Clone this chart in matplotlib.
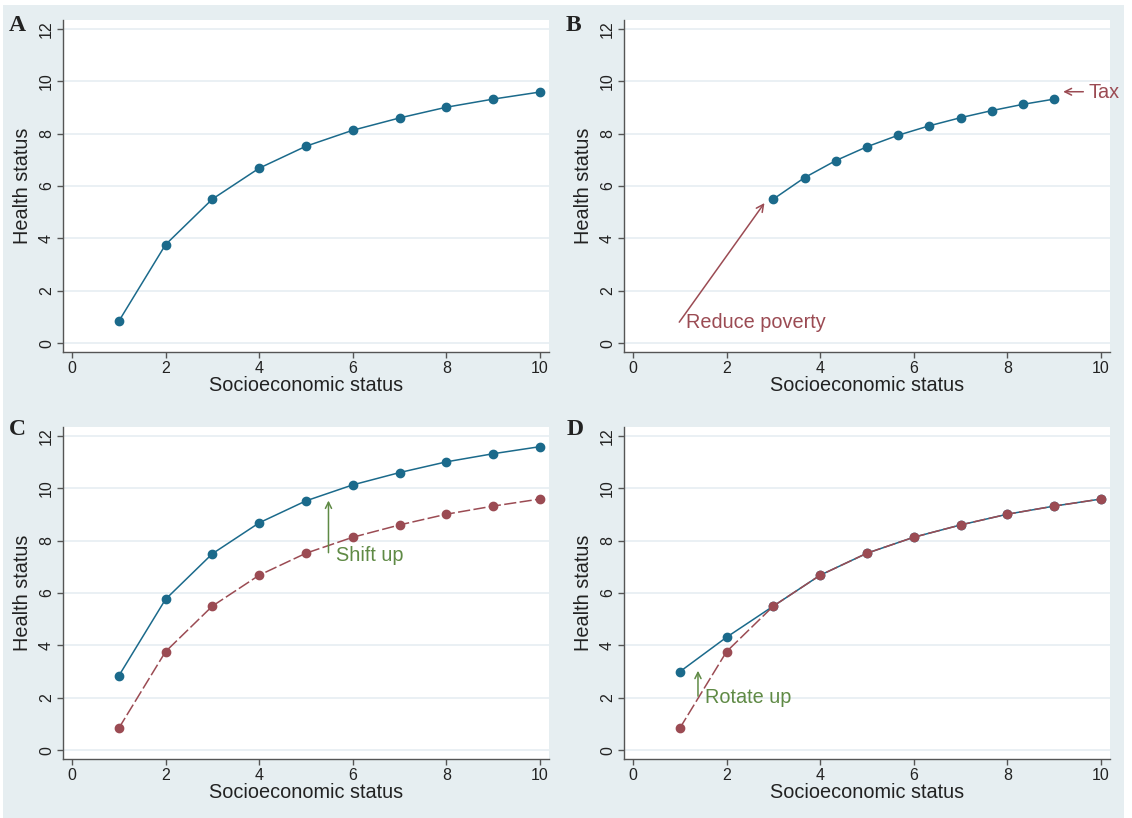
import numpy as np
import matplotlib.pyplot as plt
from matplotlib.patches import Rectangle

plt.rcParams['font.family'] = ['Liberation Sans', 'DejaVu Sans']

# data
ses = [1, 2, 3, 4, 5, 6, 7, 8, 9, 10]
health = [0.83, 3.76, 5.5, 6.68, 7.52, 8.13, 8.6, 9.01, 9.32, 9.59]

ses_b = [3, 3.667, 4.333, 5, 5.667, 6.333, 7, 7.667, 8.333, 9]
health_b = [5.5, 6.32, 6.97, 7.5, 7.94, 8.3, 8.61, 8.88, 9.12, 9.32]

health_c = [2.83, 5.76, 7.5, 8.68, 9.52, 10.13, 10.6, 11.01, 11.32, 11.59]

health_d = [2.99, 4.31, 5.5, 6.68, 7.52, 8.13, 8.6, 9.01, 9.32, 9.59]

BLUE = '#1b6a8b'
RED = '#9b4b53'
GREEN = '#5f8a45'
BG = '#e6eef1'
GRID = '#e6eef2'

fig = plt.figure(figsize=(11.32, 8.18), dpi=100, facecolor='white')
fig.patches.append(Rectangle((3/1132, 0), 1121/1132, 1 - 5/818,
                             transform=fig.transFigure, facecolor=BG,
                             edgecolor='none', zorder=-10))

W = 486/1132
H = 332/818
positions = {
    'A': (63/1132, 1 - 352/818),
    'B': (624/1132, 1 - 352/818),
    'C': (63/1132, 1 - 759/818),
    'D': (624/1132, 1 - 759/818),
}
letter_pos = {'A': (9, 31), 'B': (566, 31), 'C': (9, 435), 'D': (567, 435)}

axes = {}
for key, (l, b) in positions.items():
    ax = fig.add_axes([l, b, W, H])
    ax.set_facecolor('white')
    ax.set_xlim(-0.19, 10.19)
    ax.set_ylim(-0.34, 12.34)
    ax.set_xticks([0, 2, 4, 6, 8, 10])
    ax.set_yticks([0, 2, 4, 6, 8, 10, 12])
    ax.grid(axis='y', color=GRID, lw=1.2)
    ax.set_axisbelow(True)
    for s in ('top', 'right'):
        ax.spines[s].set_visible(False)
    for s in ('left', 'bottom'):
        ax.spines[s].set_color('#555555')
        ax.spines[s].set_linewidth(1.0)
    ax.tick_params(axis='both', colors='#555555', labelcolor='#222222',
                   labelsize=11.5, length=4, width=1.0, pad=2.5)
    for lab in ax.get_yticklabels():
        lab.set_rotation(90)
        lab.set_va('center')
    ax.set_xlabel('Socioeconomic status', fontsize=14.3, color='#222222', labelpad=0)
    ax.set_ylabel('Health status', fontsize=14.3, color='#222222', labelpad=5)
    lx, ly = letter_pos[key]
    fig.text(lx/1132, 1 - ly/818, key, family='Liberation Serif', weight='bold',
             fontsize=17, color='#222222', ha='left', va='baseline')
    axes[key] = ax

mk = dict(marker='o', markersize=6, lw=1.1)
dash = dict(marker='o', markersize=6, lw=1.1, dashes=(8, 2.2))

# A
axes['A'].plot(ses, health, color=BLUE, **mk)

# B
ax = axes['B']
ax.plot(ses_b, health_b, color=BLUE, **mk)
ax.annotate('', xy=(2.81, 5.35), xytext=(0.99, 0.8),
            arrowprops=dict(arrowstyle='->', color=RED, lw=1.1, shrinkA=0, shrinkB=0,
                            mutation_scale=13))
ax.text(1.14, 0.57, 'Reduce poverty', color=RED, fontsize=14.3, va='baseline')
ax.annotate('', xy=(9.19, 9.6), xytext=(9.62, 9.6),
            arrowprops=dict(arrowstyle='->', color=RED, lw=1.1, shrinkA=0, shrinkB=0,
                            mutation_scale=12))
ax.text(9.73, 9.35, 'Tax', color=RED, fontsize=14.3, va='baseline', clip_on=False)

# C
ax = axes['C']
ax.plot(ses, health, color=RED, **dash)
ax.plot(ses, health_c, color=BLUE, **mk)
ax.annotate('', xy=(5.48, 9.53), xytext=(5.48, 7.54),
            arrowprops=dict(arrowstyle='->', color=GREEN, lw=1.1, shrinkA=0, shrinkB=0,
                            mutation_scale=11))
ax.text(5.64, 7.23, 'Shift up', color=GREEN, fontsize=14.3, va='baseline')

# D
ax = axes['D']
ax.plot(ses, health_d, color=BLUE, **mk)
ax.plot(ses, health, color=RED, **dash)
ax.annotate('', xy=(1.39, 3.03), xytext=(1.39, 2.06),
            arrowprops=dict(arrowstyle='->', color=GREEN, lw=1.1, shrinkA=0, shrinkB=0,
                            mutation_scale=11))
ax.text(1.55, 1.78, 'Rotate up', color=GREEN, fontsize=14.3, va='baseline')

fig.savefig('out.png', dpi=100, facecolor=fig.get_facecolor())
